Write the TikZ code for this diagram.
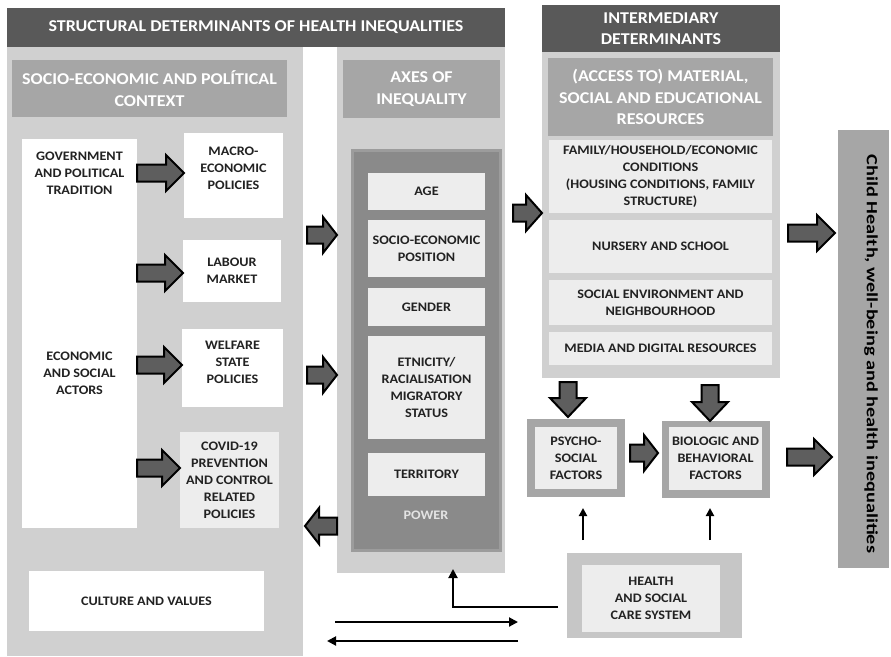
\documentclass[tikz,border=0pt]{standalone}
\usepackage{fontspec}
\setmainfont{Carlito}[FakeStretch=1.09]
\newfontfamily\widefont{Carlito}[FakeStretch=1.3]
\usetikzlibrary{calc,arrows.meta}

\definecolor{hdark}{HTML}{595959}
\definecolor{plight}{HTML}{D0D0D0}
\definecolor{hmid}{HTML}{A6A6A6}
\definecolor{boxlight}{HTML}{EDEDED}
\definecolor{axdark}{HTML}{8A8A8A}
\definecolor{axrim}{HTML}{9C9C9C}
\definecolor{arrgray}{HTML}{5E5E5E}
\definecolor{txt}{HTML}{222222}
\definecolor{powtxt}{HTML}{E3E3E3}
\definecolor{hscout}{HTML}{C6C6C6}

\newcommand\hdfont{\fontsize{16.5}{21.5}\selectfont\bfseries}
\newcommand\bdfont{\fontsize{13}{17}\selectfont\bfseries}

% parameters of the block arrows
\def\fatg{0pt}\def\fate{0pt}\def\fatw{8.5pt}\def\fatW{18pt}\def\fath{18pt}

\tikzset{
  rect/.style={anchor=north west, inner sep=0pt, outer sep=0pt},
  panel/.style={rect, fill=plight},
  darkhead/.style={rect, fill=hdark, text=white, font=\hdfont, align=center},
  midhead/.style={rect, fill=hmid, text=white, font=\hdfont, align=center},
  wbox/.style={rect, fill=white, text=txt, font=\bdfont, align=center},
  lbox/.style={rect, fill=boxlight, text=txt, font=\bdfont, align=center},
  lbl/.style={text=txt, font=\bdfont, align=center, inner sep=0pt},
  fat gap/.code={\def\fatg{#1}},
  fat end/.code={\def\fate{#1}},
  fat head/.code={\def\fath{#1}},
  fat/.style={draw=black, line width=2pt, fill=arrgray, line join=miter,
    to path={
      ($(\tikztostart)!\fatg!(\tikztotarget)!\fatw!90:(\tikztotarget)$)
      -- ($(\tikztotarget)!\fate+\fath!(\tikztostart)!\fatw!90:(\tikztotarget)$)
      -- ($(\tikztotarget)!\fate+\fath!(\tikztostart)!\fatW!90:(\tikztotarget)$)
      -- ($(\tikztotarget)!\fate!(\tikztostart)$)
      -- ($(\tikztotarget)!\fate+\fath!(\tikztostart)!\fatW!-90:(\tikztotarget)$)
      -- ($(\tikztotarget)!\fate+\fath!(\tikztostart)!\fatw!-90:(\tikztotarget)$)
      -- ($(\tikztostart)!\fatg!(\tikztotarget)!\fatw!-90:(\tikztotarget)$)
      -- cycle}},
  tarr/.style={draw=black, line width=2pt, -{Triangle[length=9pt,width=9pt]}},
}

\begin{document}
\begin{tikzpicture}[x=1pt,y=-1pt]
\useasboundingbox (0,0) rectangle (891,656);

% ---------- structural determinants ----------
\node[darkhead, minimum width=498pt, minimum height=39pt] (sdh) at (7,8)
  {STRUCTURAL DETERMINANTS OF HEALTH INEQUALITIES};
\node[panel, minimum width=296pt, minimum height=609pt] (lp) at (7,47) {};
\node[panel, minimum width=168pt, minimum height=526pt] (ap) at (337,47) {};

\node[midhead, minimum width=275pt, minimum height=57pt] (sech) at (12,60)
  {SOCIO-ECONOMIC AND POLÍTICAL\\CONTEXT};
\node[midhead, minimum width=157pt, minimum height=58pt] (axh) at (343,60)
  {AXES OF\\INEQUALITY};

% socio-economic and political context
\node[wbox, minimum width=115pt, minimum height=389pt] (gov) at (22,139) {};
\node[lbl] (govt) at (79.5,173) {GOVERNMENT\\AND POLITICAL\\TRADITION};
\node[lbl] (act) at (79.5,373) {ECONOMIC\\AND SOCIAL\\ACTORS};

\node[wbox, minimum width=99pt, minimum height=85pt] (mac) at (184,133) {};
\node[lbl] (mact) at (233.5,168) {MACRO-\\ECONOMIC\\POLICIES};
\node[wbox, minimum width=98pt, minimum height=62pt] (lab) at (183,240)
  {LABOUR\\MARKET};
\node[wbox, minimum width=101pt, minimum height=78pt] (wel) at (182,329) {};
\node[lbl] (welt) at (232.5,362) {WELFARE\\STATE\\POLICIES};
\node[lbox, minimum width=99pt, minimum height=96pt] (cov) at (180,432)
  {COVID-19\\PREVENTION\\AND CONTROL\\RELATED\\POLICIES};
\node[wbox, minimum width=235pt, minimum height=60pt] (cul) at (29,571)
  {CULTURE AND VALUES};

% axes of inequality
\node[rect, fill=axdark, draw=axrim, line width=3pt,
      minimum width=148pt, minimum height=400pt] (ai) at (352,150) {};
\node[lbox, minimum width=117pt, minimum height=37pt] (age) at (368,173) {AGE};
\node[lbox, minimum width=117pt, minimum height=57pt] (sep) at (368,220)
  {SOCIO-ECONOMIC\\POSITION};
\node[lbox, minimum width=117pt, minimum height=38pt] (gen) at (368,288) {GENDER};
\node[lbox, minimum width=117pt, minimum height=103pt] (eth) at (368,336)
  {ETNICITY/\\RACIALISATION\\MIGRATORY\\STATUS};
\node[lbox, minimum width=117pt, minimum height=43pt] (ter) at (368,453) {TERRITORY};
\node[font=\bdfont, text=powtxt, inner sep=0pt] (pow) at (426,515) {POWER};

% ---------- intermediary determinants ----------
\node[darkhead, minimum width=238pt, minimum height=47pt] (idh) at (542,5)
  {INTERMEDIARY\\DETERMINANTS};
\node[panel, minimum width=238pt, minimum height=326pt] (ip) at (542,52) {};
\node[midhead, minimum width=225pt, minimum height=78pt] (acch) at (548,58)
  {(ACCESS TO) MATERIAL,\\SOCIAL AND EDUCATIONAL\\RESOURCES};
\node[lbox, minimum width=223pt, minimum height=73pt] (fam) at (549,140)
  {FAMILY/HOUSEHOLD/ECONOMIC\\CONDITIONS\\(HOUSING CONDITIONS, FAMILY\\STRUCTURE)};
\node[lbox, minimum width=223pt, minimum height=53pt] (nur) at (549,220)
  {NURSERY AND SCHOOL};
\node[lbox, minimum width=223pt, minimum height=45pt] (soc) at (549,280)
  {SOCIAL ENVIRONMENT AND\\NEIGHBOURHOOD};
\node[lbox, minimum width=223pt, minimum height=33pt] (med) at (549,332)
  {MEDIA AND DIGITAL RESOURCES};

\node[rect, fill=hmid, minimum width=98pt, minimum height=78pt] (psyo) at (527,419) {};
\node[lbox, minimum width=82pt, minimum height=62pt] (psy) at (535,427)
  {PSYCHO-\\SOCIAL\\FACTORS};
\node[rect, fill=hmid, minimum width=108pt, minimum height=77pt] (bioo) at (662,421) {};
\node[lbox, minimum width=93pt, minimum height=63pt] (bio) at (669,427)
  {BIOLOGIC AND\\BEHAVIORAL\\FACTORS};
\node[rect, fill=hscout, minimum width=175pt, minimum height=85pt] (hsco) at (567,553) {};
\node[lbox, minimum width=138pt, minimum height=67pt] (hsc) at (582,565)
  {HEALTH\\AND SOCIAL\\CARE SYSTEM};

% ---------- outcome ----------
\node[rect, fill=hmid, minimum width=51pt, minimum height=438pt] (child) at (838,130) {};
\node[rotate=-90, text=black, font=\widefont\fontsize{15.6}{18}\selectfont\bfseries, inner sep=0pt]
  (childt) at (871,354) {Child Health, well-being and health inequalities};

% ---------- block arrows ----------
\draw[fat] (gov.east |- 0,173) to (mac.west |- 0,173);
\draw[fat] (gov.east |- 0,273) to (lab.west |- 0,273);
\draw[fat] (gov.east |- 0,365) to (wel.west |- 0,365);
\draw[fat] (gov.east |- 0,468) to (cov.west |- 0,468);

\draw[fat, fat gap=4pt, fat head=14pt] (lp.east |- 0,235) to (ap.west |- 0,235);
\draw[fat, fat gap=4pt, fat head=14pt] (lp.east |- 0,375) to (ap.west |- 0,375);
\draw[fat, fat end=2pt, fat head=14pt] (ap.west |- 0,526) to (lp.east |- 0,526);

\draw[fat, fat gap=8pt, fat head=16pt] (ap.east |- 0,213) to (ip.west |- 0,213);
\draw[fat, fat gap=8pt, fat end=3pt] (ip.east |- 0,233) to (child.west |- 0,233);

\draw[fat, fat gap=4pt, fat end=2pt, fat head=19pt] (ip.south -| 568,0) to (psyo.north -| 568,0);
\draw[fat, fat gap=7pt, fat head=19pt] (ip.south -| 710,0) to (bioo.north -| 710,0);
\draw[fat, fat gap=5pt, fat end=4pt, fat head=14pt] (psyo.east |- 0,453) to (bioo.west |- 0,453);
\draw[fat, fat gap=17pt, fat end=6pt] (bioo.east |- 0,457) to (child.west |- 0,457);

% ---------- thin arrows ----------
\draw[tarr, shorten <=13pt, shorten >=11pt,
      -{Triangle[length=8pt,width=8pt]}] (hsco.north -| 583,0) -- (psyo.south -| 583,0);
\draw[tarr, shorten <=13pt, shorten >=10pt,
      -{Triangle[length=8pt,width=8pt]}] (hsco.north -| 710,0) -- (bioo.south -| 710,0);
\draw[tarr, shorten <=9pt, shorten >=-4pt] (hsco.west |- 0,607) -| (ap.south -| 453,0);

\coordinate (ra) at (335,622);
\coordinate (rb) at (518,622);
\coordinate (la) at (518,641);
\coordinate (lb) at (327,641);
\draw[tarr] (ra) -- (rb);
\draw[tarr] (la) -- (lb);

\end{tikzpicture}
\end{document}
